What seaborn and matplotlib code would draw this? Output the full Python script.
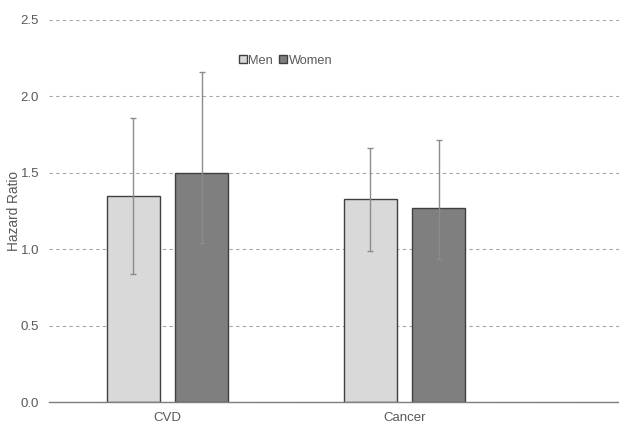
import pandas as pd
import matplotlib
matplotlib.use("Agg")
import matplotlib.pyplot as plt
import seaborn as sns

# ------------------------------------------
# Data
# ------------------------------------------

outcomes = ["CVD", "Cancer"]
groups = ["Men", "Women"]

hr_men = [1.345, 1.327]
hr_women = [1.497, 1.268]

low_men = [0.839, 0.987]
high_men = [1.857, 1.665]
low_women = [1.040, 0.937]
high_women = [2.156, 1.713]

df = pd.DataFrame({
    "Outcome": outcomes * 2,
    "Sex": ["Men"] * 2 + ["Women"] * 2,
    "HR": hr_men + hr_women,
    "Low": low_men + low_women,
    "High": high_men + high_women,
})

# ------------------------------------------
# Plot
# ------------------------------------------

sns.set_style("white")
plt.rcParams["font.family"] = ["Liberation Sans", "DejaVu Sans"]

fig = plt.figure(figsize=(6.19, 4.23), dpi=100)
ax = fig.add_axes([0.079, 0.0496, 0.921, 0.9034])

ax = sns.barplot(
    data=df,
    x="Outcome",
    y="HR",
    hue="Sex",
    order=outcomes,
    hue_order=groups,
    palette=["#d9d9d9", "#7f7f7f"],
    edgecolor="#404040",
    linewidth=1.0,
    width=0.578,
    gap=0.225,
    errorbar=None,
    ax=ax,
)

# error bars at bar centres
for patch_group, sex in zip(ax.containers, groups):
    sub = df[df["Sex"] == sex].set_index("Outcome").loc[outcomes]
    xs = [p.get_x() + p.get_width() / 2 for p in patch_group]
    ax.errorbar(
        xs,
        sub["HR"],
        yerr=[sub["HR"] - sub["Low"], sub["High"] - sub["HR"]],
        fmt="none",
        ecolor="#8c8c8c",
        elinewidth=1.0,
        capsize=2,
        capthick=1.0,
        zorder=3,
    )

ax.set_ylim(0, 2.5)
ax.set_xlim(-0.5, 1.905)
ax.set_yticks([0, 0.5, 1.0, 1.5, 2.0, 2.5])
ax.set_yticklabels(["0.0", "0.5", "1.0", "1.5", "2.0", "2.5"])

ax.yaxis.grid(True, linestyle=(0, (3, 3)), color="#a6a6a6", linewidth=0.8)
ax.set_axisbelow(True)

for s in ["top", "right", "left"]:
    ax.spines[s].set_visible(False)
ax.spines["bottom"].set_color("#7f7f7f")
ax.spines["bottom"].set_linewidth(1.0)

ax.tick_params(axis="both", length=0, labelsize=9.5, labelcolor="#595959")
ax.tick_params(axis="y", pad=7)
ax.tick_params(axis="x", pad=7)

ax.set_xlabel("")
ax.set_ylabel("Hazard Ratio", fontsize=9.8, color="#595959", labelpad=0)

ax.legend(
    loc="center",
    bbox_to_anchor=(0.415, 0.893),
    ncol=2,
    frameon=False,
    fontsize=9.2,
    labelcolor="#595959",
    handlelength=0.6,
    handleheight=0.6,
    handletextpad=0.15,
    columnspacing=0.45,
    title=None,
)

plt.savefig("out.png", dpi=100)
